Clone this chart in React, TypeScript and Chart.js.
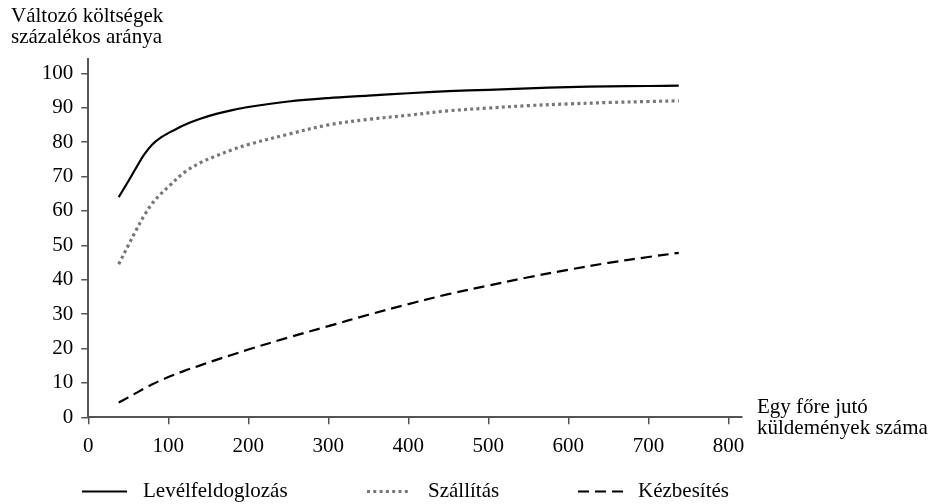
import React, { useEffect, useRef } from "react";
import { Chart, registerables } from "chart.js";

Chart.register(...registerables);

const xValues = [38, 50, 60, 70, 80, 90, 100, 120, 140, 160, 180, 200, 250, 300, 350, 400, 450, 500, 550, 600, 650, 700, 738];
const levelfeldolgozas = [64, 68.6, 72.6, 76.4, 79.3, 81.2, 82.6, 85.0, 86.8, 88.2, 89.3, 90.2, 91.8, 92.8, 93.5, 94.2, 94.8, 95.2, 95.6, 96.0, 96.2, 96.3, 96.4];
const szallitas = [44.5, 50, 54.5, 58.7, 62.2, 64.8, 67, 71.2, 74, 76, 77.8, 79.3, 82.3, 85, 86.6, 87.8, 89.1, 89.9, 90.6, 91.1, 91.5, 91.8, 92.0];
const kezbesites = [4.3, 5.8, 7.1, 8.4, 9.6, 10.7, 11.7, 13.5, 15.1, 16.7, 18.2, 19.7, 23.2, 26.5, 29.8, 32.9, 35.8, 38.3, 40.7, 42.9, 44.9, 46.6, 47.8];
const seriesNames = ["Levélfeldoglozás", "Szállítás", "Kézbesítés"];
const xTickValues = [0, 100, 200, 300, 400, 500, 600, 700, 800];
const yTickValues = [0, 10, 20, 30, 40, 50, 60, 70, 80, 90, 100];
const yTitleLines = ["Változó költségek", "százalékos aránya"];
const xTitleLines = ["Egy főre jutó", "küldemények száma"];

const FONT = "'Liberation Serif', 'Times New Roman', serif";
const FONT_SIZE = 21;
const AXIS_COLOR = "#555555";

export default function App() {
  const ref = useRef<HTMLCanvasElement | null>(null);

  useEffect(() => {
    if (!ref.current) return;
    const mk = (vals: number[]) => xValues.map((x, i) => ({ x, y: vals[i] }));
    const styles = [
      { color: "#000000", width: 2.2, dash: [] as number[] },
      { color: "#777777", width: 3.2, dash: [3, 3.3] },
      { color: "#000000", width: 2.2, dash: [11, 6] },
    ];
    const series = [levelfeldolgozas, szallitas, kezbesites];

    const overlay = {
      id: "overlay",
      afterDraw(chart: any) {
        const ctx = chart.ctx as CanvasRenderingContext2D;
        ctx.save();
        ctx.fillStyle = "#000";
        ctx.font = `${FONT_SIZE}px ${FONT}`;
        ctx.textBaseline = "middle";
        ctx.textAlign = "left";
        ctx.fillText(yTitleLines[0], 11, 16);
        ctx.fillText(yTitleLines[1], 11, 37);
        ctx.fillText(xTitleLines[0], 757, 407);
        ctx.fillText(xTitleLines[1], 757, 428);
        // legend
        const samples = [
          [82, 127, 143],
          [367, 408, 428],
          [578, 623, 638],
        ];
        const ly = 491.5;
        samples.forEach((s, i) => {
          ctx.save();
          ctx.strokeStyle = styles[i].color;
          ctx.lineWidth = styles[i].width;
          ctx.setLineDash(styles[i].dash);
          ctx.beginPath();
          ctx.moveTo(s[0], ly);
          ctx.lineTo(s[1], ly);
          ctx.stroke();
          ctx.restore();
          ctx.fillText(seriesNames[i], s[2], ly);
        });
        ctx.restore();
      },
    };

    const chart = new Chart(ref.current, {
      type: "line",
      data: {
        datasets: series.map((vals, i) => ({
          label: seriesNames[i],
          data: mk(vals),
          borderColor: styles[i].color,
          borderWidth: styles[i].width,
          borderDash: styles[i].dash,
          borderCapStyle: "butt",
          pointRadius: 0,
          fill: false,
          tension: 0.35,
        })),
      },
      options: {
        responsive: false,
        animation: false,
        devicePixelRatio: 1,
        layout: { padding: { left: 0, top: 58.5, right: 195, bottom: 46.7 } },
        plugins: { legend: { display: false }, tooltip: { enabled: false } },
        scales: {
          x: {
            type: "linear",
            min: 0,
            max: 817,
            afterBuildTicks: (s: any) => {
              s.ticks = xTickValues.map((v) => ({ value: v }));
            },
            afterFit: (s: any) => {
              s.height = 40;
            },
            grid: {
              display: true,
              drawOnChartArea: false,
              drawTicks: true,
              tickLength: 7,
              color: AXIS_COLOR,
              lineWidth: 1.5,
            },
            border: { display: true, color: AXIS_COLOR, width: 2 },
            ticks: {
              color: "#000",
              font: { family: FONT, size: FONT_SIZE },
              padding: 10,
              maxRotation: 0,
              autoSkip: false,
            },
          },
          y: {
            type: "linear",
            min: 0,
            max: 104.3,
            afterBuildTicks: (s: any) => {
              s.ticks = yTickValues.map((v) => ({ value: v }));
            },
            afterFit: (s: any) => {
              s.width = 88.3;
            },
            grid: {
              display: true,
              drawOnChartArea: false,
              drawTicks: true,
              tickLength: 7,
              color: AXIS_COLOR,
              lineWidth: 1.5,
            },
            border: { display: true, color: AXIS_COLOR, width: 2 },
            ticks: {
              color: "#000",
              font: { family: FONT, size: FONT_SIZE },
              padding: 8,
              autoSkip: false,
            },
          },
        },
      },
      plugins: [overlay],
    } as any);
    return () => chart.destroy();
  }, []);

  return (
    <div style={{ position: "fixed", left: 0, top: 0, width: 937, height: 504, background: "#fff" }}>
      <canvas ref={ref} width={937} height={504} style={{ width: 937, height: 504, display: "block" }} />
    </div>
  );
}
